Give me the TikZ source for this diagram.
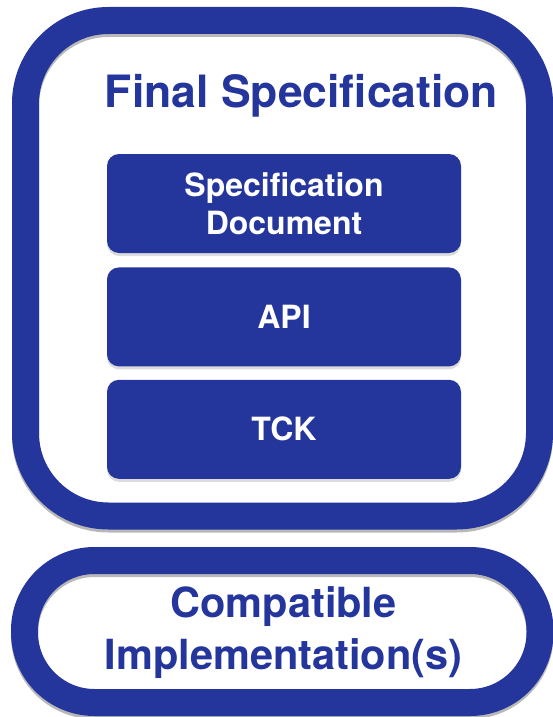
\documentclass[tikz,border=0pt]{standalone}
\usepackage{fontspec}
\setmainfont{TeX Gyre Heros}
\usetikzlibrary{positioning}
\usetikzlibrary{shadows}
\definecolor{specblue}{RGB}{36,53,156}
\tikzset{
  specframe/.style={draw=specblue, line width=27pt,
    preaction={draw=black, draw opacity=.28, line width=27pt, transform canvas={yshift=-3pt}}},
  layerbox/.style={fill=specblue, rounded corners=12pt, minimum width=354pt, minimum height=99pt,
    text=white, align=center, font=\fontsize{32}{38}\selectfont\bfseries,
    drop shadow={shadow xshift=0pt, shadow yshift=-3pt, opacity=.28}},
  heading/.style={text=specblue, align=center, font=\fontsize{44.5}{52}\selectfont\bfseries}
}

\begin{document}
\begin{tikzpicture}
\useasboundingbox (0,0) rectangle (553pt,-717pt);
% outer frames
\draw[specframe, rounded corners=83pt] (25.5pt,-20.5pt) rectangle (539.5pt,-516pt);
\draw[specframe, rounded corners=70pt] (24.5pt,-560.5pt) rectangle (540pt,-702.5pt);
% title of the specification
\node[heading, anchor=base] (final) at (301.5pt,-107pt) {Final Specification};
% the three parts
\node[layerbox] (specdoc) at (284pt,-203.5pt) {Specification\\Document};
\node[layerbox, below=14pt of specdoc] (api) {API};
\node[layerbox, below=13pt of api] (tck) {TCK};
% implementation
\node[heading, anchor=base, font=\fontsize{41.5}{52}\selectfont\bfseries] (impl) at (283.5pt,-669pt) {Compatible\\Implementation(s)};
\end{tikzpicture}
\end{document}
